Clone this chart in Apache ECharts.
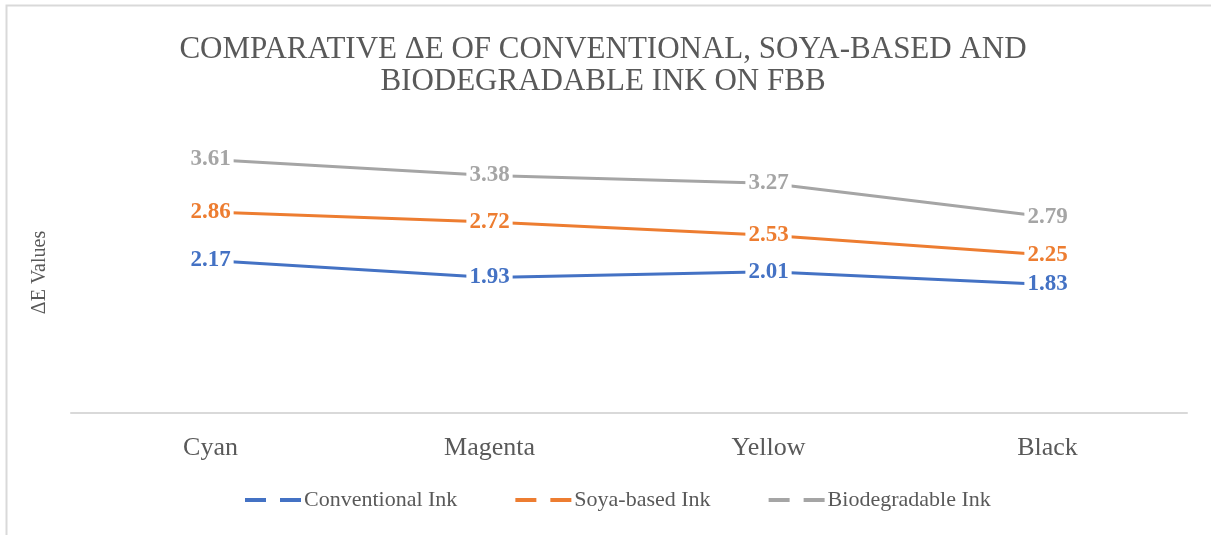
<!DOCTYPE html>
<html>
<head>
<meta charset="utf-8">
<script src="https://cdn.jsdelivr.net/npm/echarts@6/dist/echarts.min.js"></script>
<style>
  html, body { margin: 0; padding: 0; background: #ffffff; }
  #chart { width: 1211px; height: 535px; }
</style>
</head>
<body>
<div id="chart"></div>
<script>
// Process colours measured on folding box board (FBB)
const categories = ['Cyan', 'Magenta', 'Yellow', 'Black'];
const conventionalInk = [2.17, 1.93, 2.01, 1.83];
const soyaBasedInk = [2.86, 2.72, 2.53, 2.25];
const biodegradableInk = [3.61, 3.38, 3.27, 2.79];
const seriesNames = ['Conventional Ink', 'Soya-based Ink', 'Biodegradable Ink'];

const serif = "'Liberation Serif', 'Times New Roman', serif";
const textGrey = '#595959';
const colours = ['#4472C4', '#ED7D31', '#A5A5A5'];
const dashIcon = 'path://M0,0 H21 V4 H0 Z M35,0 H56 V4 H35 Z';

function lineSeries(name, values, colour) {
  return {
    name: name,
    type: 'line',
    data: values,
    symbol: 'circle',
    symbolSize: 1,
    showSymbol: true,
    lineStyle: { color: colour, width: 3 },
    itemStyle: { color: colour },
    label: {
      show: true,
      position: 'inside',
      color: colour,
      fontFamily: serif,
      fontWeight: 'bold',
      fontSize: 23,
      backgroundColor: '#ffffff',
      padding: [0, 3]
    },
    labelLayout: { hideOverlap: false },
    emphasis: { disabled: true },
    z: 3
  };
}

const chart = echarts.init(document.getElementById('chart'), null, { renderer: 'canvas' });
chart.setOption({
  animation: false,
  backgroundColor: '#ffffff',
  graphic: [{
    type: 'rect',
    shape: { x: 6.5, y: 5.5, width: 1220, height: 540 },
    style: { fill: 'none', stroke: '#d9d9d9', lineWidth: 2 },
    silent: true
  }],
  title: {
    text: 'COMPARATIVE ΔE OF CONVENTIONAL, SOYA-BASED AND\nBIODEGRADABLE INK ON FBB',
    left: 598,
    top: 29,
    textAlign: 'center',
    textStyle: {
      fontFamily: serif,
      fontWeight: 'normal',
      fontSize: 31,
      lineHeight: 32,
      color: textGrey
    }
  },
  legend: {
    data: seriesNames,
    left: 240,
    top: 484,
    itemWidth: 56,
    itemHeight: 4,
    itemGap: 58,
    icon: dashIcon,
    textStyle: { fontFamily: serif, fontSize: 22, color: textGrey, padding: [0, 0, 0, -2] }
  },
  grid: { left: 71, right: 24, top: 132, bottom: 122 },
  xAxis: {
    type: 'category',
    data: categories,
    boundaryGap: true,
    axisLine: { lineStyle: { color: '#d9d9d9', width: 2 } },
    axisTick: { show: false },
    axisLabel: { fontFamily: serif, fontSize: 26, color: textGrey, margin: 22 }
  },
  yAxis: {
    type: 'value',
    min: 0,
    max: 4,
    interval: 1,
    name: 'ΔE Values',
    nameLocation: 'middle',
    nameGap: 21,
    nameRotate: 90,
    nameTextStyle: { fontFamily: serif, fontSize: 20, color: textGrey },
    axisLine: { show: false },
    axisTick: { show: false },
    axisLabel: { show: false },
    splitLine: { show: false }
  },
  series: [
    lineSeries(seriesNames[0], conventionalInk, colours[0]),
    lineSeries(seriesNames[1], soyaBasedInk, colours[1]),
    lineSeries(seriesNames[2], biodegradableInk, colours[2])
  ]
});
</script>
</body>
</html>
